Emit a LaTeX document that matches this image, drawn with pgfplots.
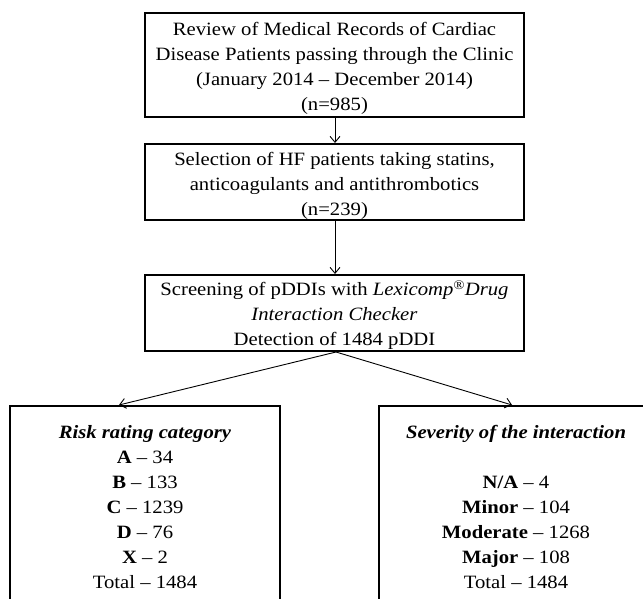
\documentclass[border=0pt]{standalone}
\usepackage{pgfplots}
\pgfplotsset{compat=1.18}
\usepackage{fontspec}
\setmainfont{Liberation Serif}[FakeStretch=1.1]
\usetikzlibrary{arrows.meta}
\begin{document}
\begin{tikzpicture}
\begin{axis}[width=643pt,height=599pt,scale only axis,hide axis,
  xmin=0,xmax=643,ymin=0,ymax=599,y dir=reverse,clip=true]
% frame of the picture (invisible)
\addplot[draw=none] coordinates {(0,0) (643,599)};
% boxes
\addplot[black,line width=2.2pt] coordinates {(145,13) (524,13) (524,117) (145,117) (145,13) (524,13)};
\addplot[black,line width=2.2pt] coordinates {(145,144) (524,144) (524,220) (145,220) (145,144) (524,144)};
\addplot[black,line width=2.2pt] coordinates {(145,275) (524,275) (524,351) (145,351) (145,275) (524,275)};
\addplot[black,line width=2.2pt] coordinates {(10,599) (10,406) (280,406) (280,599)};
\addplot[black,line width=2.2pt] coordinates {(379,599) (379,406) (643,406)};
% arrows
\addplot[black,line width=0.9pt,-{Straight Barb[length=6pt,width=10pt]}] coordinates {(335,118) (335,143)};
\addplot[black,line width=0.9pt,-{Straight Barb[length=6pt,width=10pt]}] coordinates {(335,221) (335,274)};
\addplot[black,line width=0.9pt,-{Straight Barb[length=6pt,width=10pt]}] coordinates {(336,352) (119,405)};
\addplot[black,line width=0.9pt,-{Straight Barb[length=6pt,width=10pt]}] coordinates {(336,352) (512,405)};
% texts
\tikzset{txt/.style={align=center,inner sep=0pt,font=\fontsize{18.8}{25}\selectfont}}
\node[txt] at (axis cs:334.5,68.5) {Review of Medical Records of Cardiac\\Disease Patients passing through the Clinic\\(January 2014 – December 2014)\\(n=985)};
\node[txt] at (axis cs:334.5,185.5) {Selection of HF patients taking statins,\\anticoagulants and antithrombotics\\(n=239)};
\node[txt] at (axis cs:334.5,315) {Screening of pDDIs with \textit{Lexicomp\textsuperscript{\textregistered}Drug}\\\textit{Interaction Checker}\\Detection of 1484 pDDI};
\node[txt] at (axis cs:145,507) {\textbf{\textit{Risk rating category}}\\\textbf{A} – 34\\\textbf{B} – 133\\\textbf{C} – 1239\\\textbf{D} – 76\\\textbf{X} – 2\\Total – 1484};
\node[txt] at (axis cs:516,507) {\textbf{\textit{Severity of the interaction}}\\[25pt]\textbf{N/A} – 4\\\textbf{Minor} – 104\\\textbf{Moderate} – 1268\\\textbf{Major} – 108\\Total – 1484};
\end{axis}
\end{tikzpicture}
\end{document}
